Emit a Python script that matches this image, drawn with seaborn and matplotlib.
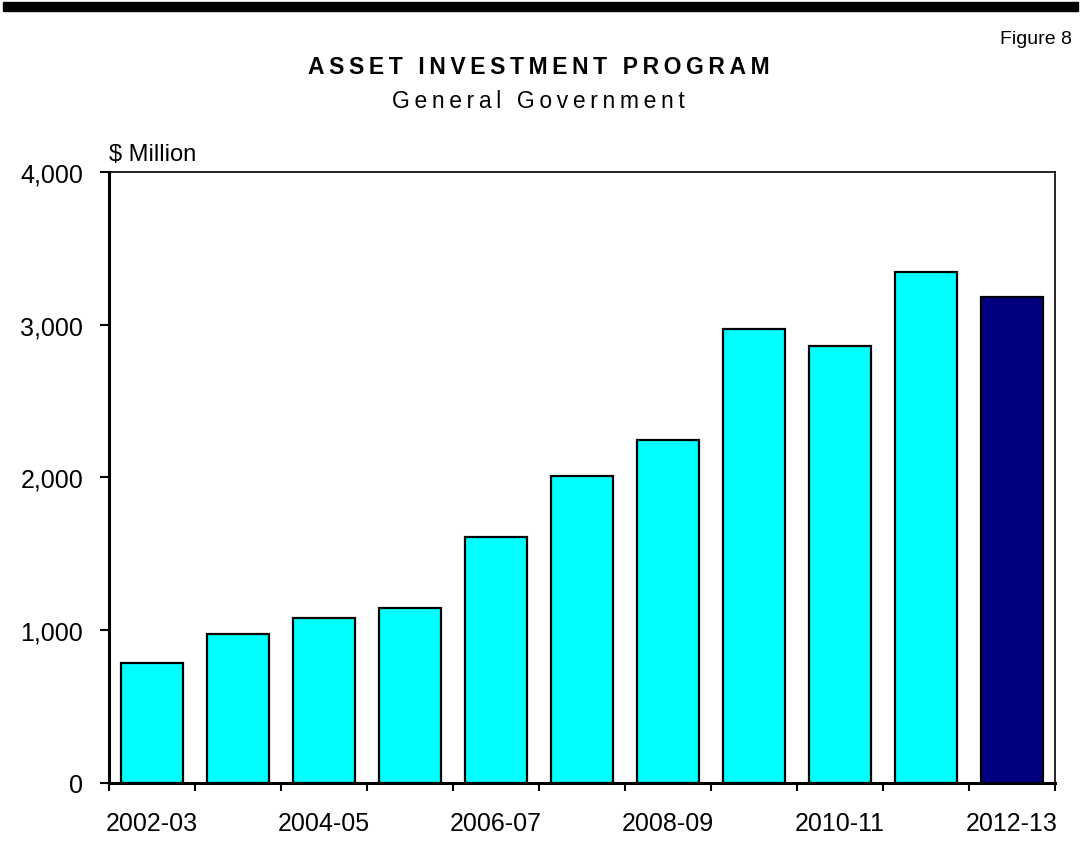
import matplotlib
matplotlib.use("Agg")
import matplotlib.pyplot as plt
import seaborn as sns
import pandas as pd
from matplotlib.ticker import FixedLocator, FuncFormatter

# Asset investment program, general government ($ million)
years = ["2002-03", "2003-04", "2004-05", "2005-06", "2006-07", "2007-08",
         "2008-09", "2009-10", "2010-11", "2011-12", "2012-13"]
spend = [785, 975, 1080, 1146, 1608, 2012, 2248, 2970, 2863, 3347, 3180]
bar_colors = ["#00FFFF"] * 10 + ["#000080"]
shown_labels = ["2002-03", "2004-05", "2006-07", "2008-09", "2010-11", "2012-13"]

sns.set_theme(style="white")
plt.rcParams["font.family"] = ["Liberation Sans", "DejaVu Sans"]
plt.rcParams["text.color"] = "black"
plt.rcParams["xtick.color"] = "black"
plt.rcParams["ytick.color"] = "black"
plt.rcParams["xtick.labelcolor"] = "black"
plt.rcParams["ytick.labelcolor"] = "black"

df = pd.DataFrame({"year": years, "spend": spend})

fig = plt.figure(figsize=(10.81, 8.54), dpi=100)
ax = fig.add_axes([0.1008, 0.082, 0.8752, 0.7155])

sns.barplot(data=df, x="year", y="spend", hue="year", palette=bar_colors,
            width=0.72, edgecolor="black", linewidth=1.6, saturation=1,
            legend=False, ax=ax)

ax.set_xlim(-0.5, len(years) - 0.5)
ax.set_ylim(0, 4000)
ax.set_xlabel("")
ax.set_ylabel("")

# category labels on every other bar, tick marks on the boundaries
label_pos = [years.index(y) for y in shown_labels]
ax.xaxis.set_major_locator(FixedLocator(label_pos))
ax.set_xticklabels(shown_labels)
ax.xaxis.set_minor_locator(FixedLocator([i - 0.5 for i in range(len(years) + 1)]))
ax.tick_params(axis="x", which="major", length=0, pad=20, labelsize=18,
               labelcolor="black")
ax.tick_params(axis="x", which="minor", length=6, width=1.5, color="black",
               direction="out", bottom=True)

ax.set_yticks([0, 1000, 2000, 3000, 4000])
ax.yaxis.set_major_formatter(FuncFormatter(lambda v, p: f"{int(v):,}"))
ax.tick_params(axis="y", length=6.5, width=1.5, color="black", direction="out",
               left=True, labelsize=18, pad=12, labelcolor="black")

for side in ["left", "bottom"]:
    ax.spines[side].set_linewidth(2.2)
    ax.spines[side].set_color("black")
for side in ["top", "right"]:
    ax.spines[side].set_linewidth(1.2)
    ax.spines[side].set_color("black")
ax.grid(False)

ax.text(0.0, 1.012, "$ Million", transform=ax.transAxes, ha="left",
        va="bottom", fontsize=17, color="black")

# header rule and titles
fig.add_artist(plt.Rectangle((0.003, 1 - 12 / 854), 0.994, 9 / 854,
                             transform=fig.transFigure, color="black"))
fig.text(0.992, 1 - 39 / 854, "Figure 8", ha="right", va="center",
         fontsize=14, color="black")
fig.text(0.498, 1 - 68 / 854, "\u2009".join("ASSET INVESTMENT PROGRAM"),
         ha="center", va="center", fontsize=16.5, fontweight="bold",
         color="black")
fig.text(0.498, 1 - 101 / 854, "\u2009".join("General Government"),
         ha="center", va="center", fontsize=16.5, color="black")

fig.savefig("out.png", dpi=100)
